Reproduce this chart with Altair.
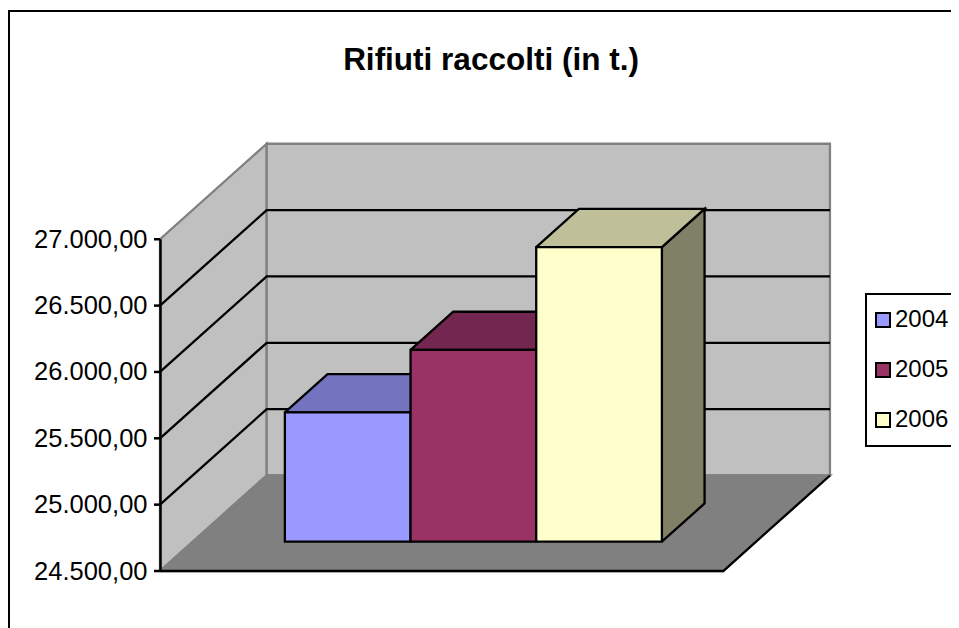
import altair as alt
import pandas as pd

TITLE = "Rifiuti raccolti (in t.)"
YEARS = ["2004", "2005", "2006"]
VALUES = [25475, 25945, 26720]
FRONT = ["#9999FF", "#993366", "#FFFFCC"]
TOP = ["#7373BF", "#732650", "#BFBF99"]
SIDE = ["#4D4D80", "#4D1A33", "#808066"]
TICKS = [24500, 25000, 25500, 26000, 26500, 27000]
FONT = "Liberation Sans"

# scale geometry
PX_X = 125.67       # px per category slot
PX_Y = 0.1327       # px per tonne
W, H = 791, 563
Y0 = 24500
DX = 106.7 / PX_X   # wall depth, in x units
DY = 95.5 / PX_Y    # wall depth, in y units
XMAX = 4.482
GAP = 0.733
D0, D1 = 0.307, 0.707

xs = alt.Scale(domain=[0, W / PX_X], nice=False, zero=False)
ys = alt.Scale(domain=[Y0, Y0 + H / PX_Y], nice=False, zero=False)

Y_AXIS = alt.Axis(
    title=None,
    values=TICKS,
    grid=False,
    domain=False,
    ticks=False,
    labelPadding=13,
    labelFont=FONT,
    labelFontSize=25.5,
    labelColor="#000000",
    labelExpr="replace(replace(replace(format(datum.value, ',.2f'), ',', '#'), '.', ','), '#', '.')",
)


def poly(name, pts, fill="none", stroke="#000000"):
    rows = []
    for i, (c, d, v) in enumerate(pts):
        rows.append({"id": name, "i": i, "x": c + d * DX, "y": v + d * DY, "fill": fill, "stroke": stroke})
    return rows


def lines(rows, width=2.3):
    return (
        alt.Chart(pd.DataFrame(rows))
        .mark_line(strokeWidth=width, strokeJoin="miter", clip=False)
        .encode(
            x=alt.X("x:Q", scale=xs, axis=None),
            y=alt.Y("y:Q", scale=ys, axis=Y_AXIS),
            detail="id:N",
            order="i:Q",
            fill=alt.Fill("fill:N", scale=None, legend=None),
            stroke=alt.Stroke("stroke:N", scale=None, legend=None),
        )
    )


T = TICKS[-1]
walls = []
walls += poly("left", [(0, 0, Y0), (0, 1, Y0), (0, 1, T), (0, 0, T), (0, 0, Y0)], "#C0C0C0", "#808080")
walls += poly("back", [(0, 1, Y0), (XMAX, 1, Y0), (XMAX, 1, T), (0, 1, T), (0, 1, Y0)], "#C0C0C0", "#808080")
floor = poly("floor", [(0, 0, Y0), (XMAX, 0, Y0), (XMAX, 1, Y0), (0, 1, Y0), (0, 0, Y0)], "#808080", "#808080")
edges = poly("edge", [(0, 0, Y0), (XMAX, 0, Y0), (XMAX, 1, Y0)])
grid = []
for t in TICKS[1:-1]:
    grid += poly(f"g{t}", [(0, 0, t), (0, 1, t), (XMAX, 1, t)])

frame = alt.Chart(pd.DataFrame({"a": [0]})).mark_rect(
    fill="transparent", stroke="#000000", strokeWidth=2
).encode(x=alt.value(-151), x2=alt.value(W + 60), y=alt.value(3), y2=alt.value(H + 150))

layers = [frame, lines(walls), lines(grid), lines(floor), lines(edges)]

bars = pd.DataFrame(
    {
        "year": YEARS,
        "x": [GAP + i + D0 * DX for i in range(3)],
        "x2": [GAP + i + 1 + D0 * DX for i in range(3)],
        "y": [Y0 + D0 * DY] * 3,
        "y2": [v + D0 * DY for v in VALUES],
    }
)

color_enc = alt.Color(
    "year:N",
    scale=alt.Scale(domain=YEARS, range=FRONT),
    legend=alt.Legend(
        title=None,
        orient="none",
        legendX=706,
        legendY=286,
        symbolType="square",
        symbolSize=196,
        symbolOffset=-9,
        symbolStrokeColor="#000000",
        symbolStrokeWidth=2,
        labelFont=FONT,
        labelFontSize=24,
        labelColor="#000000",
        labelOffset=0,
        rowPadding=26,
        padding=14,
        strokeColor="#000000",
        fillColor="#FFFFFF",
    ),
)

for i, year in enumerate(YEARS):
    c = GAP + i
    shapes = []
    v = VALUES[i]
    shapes += poly(f"s{year}", [(c + 1, D0, Y0), (c + 1, D1, Y0), (c + 1, D1, v), (c + 1, D0, v), (c + 1, D0, Y0)], SIDE[i])
    shapes += poly(f"t{year}", [(c, D0, v), (c + 1, D0, v), (c + 1, D1, v), (c, D1, v), (c, D0, v)], TOP[i])
    layers.append(lines(shapes))
    layers.append(
        alt.Chart(bars[bars.year == year])
        .mark_rect(stroke="#000000", strokeWidth=2.3)
        .encode(
            x=alt.X("x:Q", scale=xs, axis=None),
            x2="x2:Q",
            y=alt.Y("y:Q", scale=ys, axis=Y_AXIS),
            y2="y2:Q",
            color=color_enc,
        )
    )

# front edge of the left wall and its tick marks, drawn on top
wall_edge = (
    alt.Chart(pd.DataFrame({"a": [T], "b": [Y0]}))
    .mark_rule(color="#000000", strokeWidth=2.5)
    .encode(x=alt.value(0.5), y=alt.Y("a:Q", scale=ys, axis=Y_AXIS), y2="b:Q")
)
tick_marks = (
    alt.Chart(pd.DataFrame({"v": TICKS}))
    .mark_rule(color="#000000", strokeWidth=2.5)
    .encode(x=alt.value(-6), x2=alt.value(0), y=alt.Y("v:Q", scale=ys, axis=Y_AXIS))
)
layers += [wall_edge, tick_marks]

chart = (
    alt.layer(*layers)
    .properties(
        width=W,
        height=H,
        padding={"left": 152, "top": 0, "right": 0, "bottom": 57},
        autosize=alt.AutoSizeParams(type="none"),
        title=alt.TitleParams(
            TITLE,
            font=FONT,
            fontSize=31.5,
            fontWeight="bold",
            color="#000000",
            anchor="middle",
            frame="group",
            dx=-64.5,
            offset=-68,
        ),
    )
    .resolve_scale(color="shared")
    .configure_view(stroke=None)
    .configure_legend(strokeWidth=2)
)

chart.save("out.html", embed_options={"renderer": "svg", "actions": False})
